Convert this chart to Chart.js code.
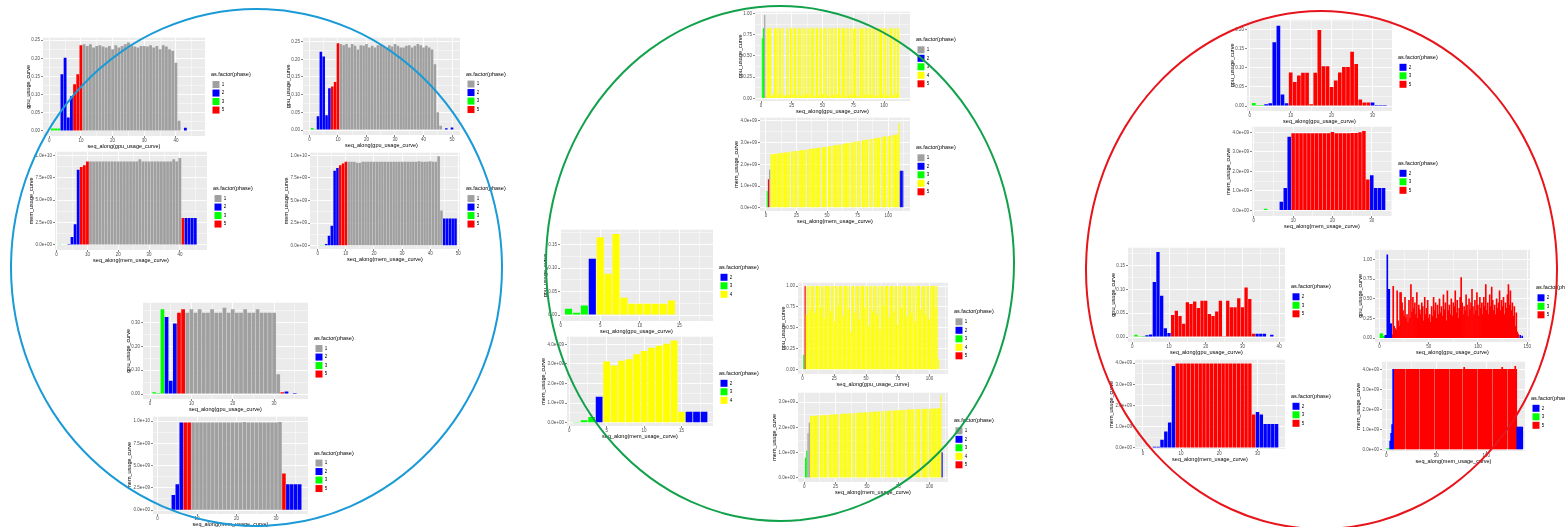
<!DOCTYPE html>
<html lang="en">
<head>
<meta charset="UTF-8">
<title>Usage curves by phase</title>
<script src="https://cdn.jsdelivr.net/npm/chart.js"></script>
<style>
  html, body { margin: 0; padding: 0; background: #fff; }
  body { position: relative; width: 1565px; height: 527px; overflow: hidden; }
  .plot { position: absolute; }
  .ring { position: absolute; border-radius: 50%; box-sizing: border-box; z-index: 5; pointer-events: none; }
</style>
</head>
<body>
<div class="ring" style="left:10px;top:8px;width:493px;height:519px;border:2px solid #1A9AD6"></div>
<div class="ring" style="left:545px;top:5px;width:470px;height:517px;border:2px solid #12A14B"></div>
<div class="ring" style="left:1085px;top:10px;width:473px;height:520px;border:2px solid #E8141B"></div>
<script>
// phase colours (1 grey, 2 blue, 3 green, 4 yellow, 5 red)
const PHASE_COLORS = {1: '#A0A0A0', 2: '#0000FF', 3: '#00FF00', 4: '#FFFF00', 5: '#FF0000'};

// ---- blue group ----
const b1Val = [0.7,0.7,0.7, 15.6,20.2,3.7,9.6, 12.9,15.6,23.6,
  23.9,23.4,23.9,23.0,23.4,23.6,23.3,23.0,23.4,22.5,
  23.6,23.0,23.4,23.9,24.4,23.6,23.3,23.0,23.4,23.4,
  23.3,23.6,23.0,23.4,22.5,23.6,23.3,22.5,22.1,18.8,
  2.8,null,0.9];
const b1Runs = [[3,3],[2,4],[5,3],[1,32],[2,1]];

const b2Val = [0.6,0.2, 3.9,22.1,20.8,4.2,11.8, 12.3,13.6,24.5,
  24.3,24.0,24.3,23.3,24.3,23.8,22.8,24.0,23.8,24.3,
  23.3,23.8,23.3,24.0,24.3,23.8,23.3,24.0,23.6,24.3,
  23.8,23.3,23.3,23.8,24.0,23.3,23.8,24.3,24.0,23.3,
  23.8,23.3,22.8, 18.6,5.0,1.2, null,0.5,null,0.7];
const b2Runs = [[3,2],[2,5],[5,3],[1,37],[2,1],[1,1],[2,1]];

const b3Val = [0.02,0.05,0.05, 0.1,0.9,2.3,8.4, 8.7,8.9,9.3,
  9.3,9.3,9.3,9.3,9.3,9.3,9.3,9.3,9.3,9.3,
  9.3,9.3,9.3,9.3,9.3,9.3,9.55,9.3,9.3,9.3,
  9.3,9.3,9.3,9.3,9.3,9.3,9.3,9.55,9.3,9.7,
  3.0, 3.0,3.0,3.0,3.0];
const b3Runs = [[3,3],[2,4],[5,3],[1,30],[5,1],[2,4]];

const b4Val = [0.07,0.07, 0.18,1.1,2.2,8.3,8.6, 8.9,9.1,9.3,
  9.3,9.3,9.3,9.2,9.2,9.3,9.3,9.3,9.3,9.3,
  9.3,9.3,9.3,9.3,9.3,9.3,9.3,9.3,9.3,9.3,
  9.3,9.3,9.3,9.3,9.3,9.35,9.3,9.3,9.3,9.35,
  9.3,9.3,9.9, 3.9, 3.0,3.0,3.0,3.0,3.0];
const b4Runs = [[3,2],[2,5],[5,3],[1,34],[2,5]];

const b5Val = [0.7,0.4,35.6, 32.4,5.6,29.6, 34.2,35.6,
  34.2,35.6,34.2,35.6,34.2,34.2,35.6,34.2,34.2,36.3,
  34.2,35.6,34.2,34.2,35.6,34.2,34.2,35.6,34.2,34.2,
  34.2,34.2, 8.3, 0.7, 1.1,null,0.4];
const b5Runs = [[3,3],[2,3],[5,2],[1,23],[5,1],[2,3]];

const b6Val = [0.04,0.04,0.04, 1.7,2.9,9.85, 9.85,9.85,
  9.85,9.85,9.85,9.85,9.85,9.85,9.85,9.85,9.85,9.85,
  9.85,9.85,9.85,9.9,9.85,9.85,9.85,9.85,9.85,9.85,
  9.85,9.85,9.9, 4.1, 2.9,2.9,2.9,2.9];
const b6Runs = [[3,3],[2,3],[5,2],[1,23],[5,1],[2,4]];

// ---- green group ----
const g1Val = [70.8,82.5,98,
  4,82,83,82,83,3,5,82,83,82,
  4,83,82,5,83,4,3,82,83,4,
  82,83,5,82,83,4,82,83,82,3,
  83,4,82,5,83,82,4,83,82,83,
  3,82,83,4,82,83,5,82,83,82,
  4,83,3,82,83,4,82,83,5,82,
  83,4,82,83,82,3,83,82,4,83,
  5,82,83,82,4,83,3,82,83,82,
  4,83,82,5,83,82,4,83,82,3,
  82,4,83,82,83,5,82,83,4,82,
  3,83,82,4,83,82,5,83,82];
const g1Runs = [[3,2],[1,1],[4,109]];

const g2Val = [0.77,1.31,1.75,
  2.46,2.47,2.47,2.48,2.49,2.50,2.50,2.51,2.52,2.53,
  2.54,2.54,2.55,2.56,2.57,2.57,null,2.59,2.59,2.60,
  2.61,2.62,null,2.63,2.64,2.65,2.66,2.66,2.67,null,
  2.69,2.70,2.71,2.71,2.72,2.73,2.74,2.75,2.75,2.76,
  2.77,null,2.79,2.79,2.80,2.81,null,2.83,2.84,2.84,
  null,2.86,2.87,2.88,2.89,2.90,2.91,2.92,null,2.94,
  2.95,2.96,2.97,2.98,2.99,null,3.01,3.02,3.03,3.04,
  null,3.06,3.07,3.08,null,3.10,3.11,3.12,3.13,3.14,
  null,3.16,3.17,3.18,null,3.20,3.21,3.22,3.23,3.24,
  null,3.26,3.27,3.28,3.29,null,3.30,3.31,3.32,null,
  3.34,3.35,3.36,3.37,3.38,
  3.9, 1.7,1.7,1.7];
const g2Runs = [[3,1],[5,1],[1,1],[4,106],[2,3]];

const g3Val = [1.35,0.5,2.05, 12.0, 16.6,8.8,17.3,3.7,2.4,2.4,2.4,2.4,2.4,3.1];
const g3Runs = [[3,3],[2,1],[4,10]];

const g4Val = [0.03,0.12,0.29, 1.32, 3.12,2.92,3.16,3.24,3.49,3.66,3.83,3.93,4.03,4.19,0.56, 0.56,0.56,0.56];
const g4Runs = [[3,3],[2,1],[4,11],[2,3]];

const g5Val = [17.5,100,
  66,100,100,72,100,100,100,68,100,100,
  100,74,100,100,62,100,100,100,100,70,
  100,100,58,100,100,76,100,100,100,64,
  100,100,100,72,100,45,100,100,68,100,
  100,100,60,100,100,100,74,100,100,52,
  100,100,70,100,100,100,66,100,48,100,
  100,76,100,100,100,62,100,100,100,70,
  100,100,54,100,100,74,100,100,100,64,
  100,100,100,68,100,100,58,100,100,100,
  72,100,100,100,66,100,100,60,100,100,
  100,100,74,100,12.7];
const g5Runs = [[3,1],[5,1],[4,105]];

const g6Val = [0.8,1.08,1.77,2.18,
  2.45,2.45,2.46,2.46,2.46,2.47,2.47,null,2.48,2.48,
  2.48,2.49,2.49,2.49,null,2.50,2.50,2.51,2.51,2.51,
  2.52,2.52,2.52,null,2.53,2.53,2.54,2.54,2.54,2.55,
  2.55,2.55,2.56,null,2.56,2.57,null,2.57,2.58,2.58,
  2.58,2.59,2.59,2.59,2.60,2.60,null,2.61,2.61,2.61,
  2.62,2.62,2.62,2.63,2.63,2.63,null,2.64,2.64,null,
  2.65,2.65,2.66,2.66,2.66,null,2.67,2.67,2.67,2.68,
  2.68,2.68,2.69,2.69,2.69,2.70,null,2.70,2.71,2.71,
  2.71,2.71,2.72,null,2.72,2.72,2.72,2.73,null,2.73,
  2.73,2.73,2.74,2.74,null,2.74,2.74,2.74,2.75,2.75,
  2.75,2.75,2.76,2.76,
  3.3, 1.02];
const g6Runs = [[3,2],[1,2],[4,105],[2,1]];

// ---- red group ----
const r1Val = [0.8,0.25,0.25, 0.45,0.7,16.7,21.0,3.0,0.7,
  8.8,6.3,8.0,8.7,8.7,0.45,8.7,19.9,10.4,10.4,
  5.0,6.7,8.8,10.2,10.2,14.2,11.0,1.7,0.9,0.9,
  0.9,0.25,0.25,0.25];
const r1Runs = [[3,3],[2,6],[5,20],[2,4]];

const r2Val = [null,0.02,0.08, 0.02,0.02,0.02,0.44,1.15,3.78,
  3.95,3.95,3.95,3.96,3.95,3.95,3.95,3.95,3.95,3.95,
  4.02,3.96,3.95,3.96,3.96,3.97,3.97,4.0,4.07, 1.58,
  1.8,1.15,1.15,1.15];
const r2Runs = [[3,3],[2,6],[5,20],[2,4]];

const r3Val = [0.5,0.15,0.2, 0.35,0.55,11.6,17.9,8.7,1.85,0.85,
  4.65,5.55,4.4,2.8,7.3,6.95,7.5,6.1,7.65,7.65,
  4.85,4.4,5.35,7.65,0.15,7.65,6.25,6.25,8.15,6.25,
  10.4,8.0,0.7, 0.7,0.7,0.7,null,0.5];
const r3Runs = [[3,3],[2,7],[5,23],[2,5]];

const r4Val = [5.5,5.5,5.5,2.1,2.1, 3.4,3.4,106,62,62,18,18,
  4,66,15,12,10,60,22,15,58,58,
  45,35,28,52,25,30,20,48,25,68,
  33,52,38,45,30,58,25,42,36,30,
  45,40,22,52,30,38,48,25,30,20,
  40,28,52,35,45,25,42,30,50,32,
  40,28,55,36,45,22,60,35,42,30,
  50,28,45,40,60,32,48,25,38,52,
  77,45,30,40,35,55,42,28,50,36,
  45,62,40,30,48,35,58,42,28,52,
  38,45,30,52,40,68,35,45,30,55,
  40,65,48,35,42,30,50,38,45,60,
  35,48,40,52,30,45,38,55,68,42,
  60,35,45,28,40,15,32,8,5,
  null,3.4,null,2.5];
const r4Runs = [[3,5],[2,7],[5,129],[2,4]];

const r5Val = [0.02,0.02, 0.06,0.06,0.39,0.77,1.2,3.86,
  3.98,3.98,3.98,3.98,3.98,3.98,3.98,3.98,3.98,3.98,
  3.98,3.98,3.98,3.98,3.98,3.98,3.98,3.98,3.98,3.98,
  1.58, 1.7,1.58,1.13,1.13,1.13,1.13];
const r5Runs = [[3,2],[2,6],[5,21],[2,6]];

const r6Val = [0.03,0.03,0.03, 0.41,0.8,1.24,4.0,
  4,4,4,4,4,4,4,4,4,4,
  4,null,4,4,4,4,4,4,4,4,
  4,4,4,4,4,null,4,4,4,4,
  4,4,4,4,4,4,4,4,4,4,
  null,4,4,4,4,4,4,4,4,4,
  4,4,4,4,4,null,4,4,4,4,
  4,4,4,4,4,4,4,4,null,4,
  4.1,4,4,4,4,4,4,4,4,4,
  4,4,4,null,4,4,4,4,4,4,
  4,4,4,4,4,4,4,4,null,4,
  4,4,4,4,4,4,4,4,4.1,4,
  4,4,4,null,4,4,4,4,4,4,
  4,4.15,4,
  1.12,1.12,1.12,1.12,1.12,1.12];
const r6Runs = [[3,3],[2,4],[5,123],[2,6]];

// tick label formats
function pct(v) { return (v / 100).toFixed(2); }
function sci(v) {
  const n = v * 1e9;
  if (Math.abs(n) < 1) return '0.0e+00';
  const e = Math.floor(Math.log10(Math.abs(n)) + 1e-9);
  const m = n / Math.pow(10, e);
  return m.toFixed(1) + 'e' + (e < 0 ? '-' : '+') + String(Math.abs(e)).padStart(2, '0');
}

const GPU_Y = 'gpu_usage_curve', GPU_X = 'seq_along(gpu_usage_curve)';
const MEM_Y = 'mem_usage_curve', MEM_X = 'seq_along(mem_usage_curve)';

// where each small panel sits, and its axis ranges [min, max, major step]
const plots = [
  {vals: b1Val, runs: b1Runs, keys: [1,2,3,5], panel: [43,38,205,137], x: [-1.98,49.2,10], y: [-1.38,25.7,5], fmt: pct, yLab: GPU_Y, xLab: GPU_X},
  {vals: b2Val, runs: b2Runs, keys: [1,2,3,5], panel: [303,38,460,136], x: [-2.26,52.8,10], y: [-1.4,26.1,5], fmt: pct, yLab: GPU_Y, xLab: GPU_X},
  {vals: b3Val, runs: b3Runs, keys: [1,2,3,5], panel: [55,152,207,251], x: [-0.52,48.8,10], y: [-0.56,10.4,2.5], fmt: sci, yLab: MEM_Y, xLab: MEM_X},
  {vals: b4Val, runs: b4Runs, keys: [1,2,3,5], panel: [310,153,460,250], x: [-2.76,50.6,10], y: [-0.37,10.3,2.5], fmt: sci, yLab: MEM_Y, xLab: MEM_X},
  {vals: b5Val, runs: b5Runs, keys: [1,2,3,5], panel: [143,303,308,400], x: [-1.7,38.2,10], y: [-2.1,38.4,10], fmt: pct, yLab: GPU_Y, xLab: GPU_X},
  {vals: b6Val, runs: b6Runs, keys: [1,2,3,5], panel: [153,417,308,515], x: [-1.15,38.1,10], y: [-0.44,10.5,2.5], fmt: sci, yLab: MEM_Y, xLab: MEM_X},

  {vals: g1Val, runs: g1Runs, keys: [1,2,3,4,5], panel: [755,12,910,102], x: [-4.9,121.1,25], y: [-3.1,102,25], fmt: pct, yLab: GPU_Y, xLab: GPU_X},
  {vals: g2Val, runs: g2Runs, keys: [1,2,3,4,5], panel: [760,118,910,212], x: [-4.9,117.9,25], y: [-0.15,4.15,1], fmt: sci, yLab: MEM_Y, xLab: MEM_X},
  {vals: g3Val, runs: g3Runs, keys: [2,3,4], panel: [560,230,713,322], x: [-0.08,19.25,5], y: [-1.27,18.2,5], fmt: pct, yLab: GPU_Y, xLab: GPU_X},
  {vals: g4Val, runs: g4Runs, keys: [2,3,4], panel: [567,337,713,427], x: [-0.29,19.2,5], y: [-0.17,4.39,1], fmt: sci, yLab: MEM_Y, xLab: MEM_X},
  {vals: g5Val, runs: g5Runs, keys: [1,2,3,4,5], panel: [798,283,948,375], x: [-3.6,114.5,25], y: [-5.2,104,25], fmt: pct, yLab: GPU_Y, xLab: GPU_X},
  {vals: g6Val, runs: g6Runs, keys: [1,2,3,4,5], panel: [798,393,948,483], x: [-5.0,114.7,25], y: [-0.16,3.37,1], fmt: sci, yLab: MEM_Y, xLab: MEM_X},

  {vals: r1Val, runs: r1Runs, keys: [2,3,5], panel: [1247,20,1392,112], x: [-0.67,34.75,10], y: [-1.3,22.6,5], fmt: pct, yLab: GPU_Y, xLab: GPU_X},
  {vals: r2Val, runs: r2Runs, keys: [2,3,5], panel: [1252,127,1392,217], x: [-0.47,35.15,10], y: [-0.29,4.29,1], fmt: sci, yLab: MEM_Y, xLab: MEM_X},
  {vals: r3Val, runs: r3Runs, keys: [2,3,5], panel: [1128,248,1285,343], x: [-1.17,41.6,10], y: [-1.05,18.8,5], fmt: pct, yLab: GPU_Y, xLab: GPU_X},
  {vals: r4Val, runs: r4Runs, keys: [2,3,5], panel: [1375,250,1530,343], x: [-4.5,152.9,50], y: [-5,112.5,25], fmt: pct, yLab: GPU_Y, xLab: GPU_X, bar: 1},
  {vals: r5Val, runs: r5Runs, keys: [2,3,5], panel: [1135,360,1285,450], x: [-2.07,37.2,10], y: [-0.05,4.16,1], fmt: sci, yLab: MEM_Y, xLab: MEM_X},
  {vals: r6Val, runs: r6Runs, keys: [2,3,5], panel: [1382,362,1525,452], x: [-4.15,138.75,50], y: [-0.08,4.38,1], fmt: sci, yLab: MEM_Y, xLab: MEM_X, bar: 1}
];

Chart.defaults.font.family = '"Liberation Sans", Arial, sans-serif';

// grey ggplot-like panel behind the grid
const panelBg = {
  id: 'panelBg',
  beforeDraw(chart) {
    const a = chart.chartArea, ctx = chart.ctx;
    ctx.save();
    ctx.fillStyle = '#EBEBEB';
    ctx.fillRect(a.left, a.top, a.right - a.left, a.bottom - a.top);
    ctx.restore();
  }
};

function isMajor(v, step) {
  const q = v / step;
  return Math.abs(q - Math.round(q)) < 1e-6;
}

// major + minor (half-step) ticks, like ggplot's grid
function halfTicks(step) {
  return scale => {
    const h = step / 2, out = [];
    for (let i = Math.ceil(scale.min / h - 1e-9); i * h <= scale.max + 1e-9; i++) {
      out.push({value: +(i * h).toFixed(4)});
    }
    scale.ticks = out;
  };
}

function gridFor(step) {
  return {
    color: '#FFFFFF',
    offset: false,
    lineWidth: c => (c.tick && isMajor(c.tick.value, step)) ? 0.9 : 0.45,
    tickLength: 2,
    tickWidth: 0.6,
    tickColor: c => (c.tick && isMajor(c.tick.value, step)) ? '#333333' : 'rgba(0,0,0,0)'
  };
}

function makePlot(spec) {
  const [pl, pt, pr, pb] = spec.panel;
  const yW = spec.fmt === sci ? 27 : 18;
  const xH = 14, gap = 6, legW = 46, padT = 3;
  const W = yW + (pr - pl) + gap + legW;
  const H = padT + (pb - pt) + xH;

  const wrap = document.createElement('div');
  wrap.className = 'plot';
  wrap.style.left = (pl - yW) + 'px';
  wrap.style.top = (pt - padT) + 'px';
  const cv = document.createElement('canvas');
  cv.width = W; cv.height = H;
  cv.style.width = W + 'px'; cv.style.height = H + 'px';
  wrap.appendChild(cv);
  document.body.appendChild(wrap);

  const phases = [];
  spec.runs.forEach(([p, n]) => { for (let i = 0; i < n; i++) phases.push(p); });

  const datasets = spec.keys.map(p => ({
    label: String(p),
    data: spec.vals.map((v, i) => ({x: i + 1, y: v, p: phases[i]})).filter(d => d.p === p && d.y !== null),
    backgroundColor: PHASE_COLORS[p],
    borderWidth: 0,
    grouped: false,
    barPercentage: spec.bar || 0.9,
    categoryPercentage: 1
  }));

  const tickFont = {size: 4.5};
  const titleFont = {size: 5.5};

  const chart = new Chart(cv, {
    type: 'bar',
    data: {datasets},
    options: {
      responsive: false,
      animation: false,
      devicePixelRatio: 1,
      events: [],
      layout: {padding: {top: padT, right: 0, left: 0, bottom: 0}},
      scales: {
        x: {
          type: 'linear', offset: false,
          min: spec.x[0], max: spec.x[1],
          afterBuildTicks: halfTicks(spec.x[2]),
          afterFit: s => { s.height = xH; },
          grid: gridFor(spec.x[2]),
          border: {display: false},
          ticks: {autoSkip: false, maxRotation: 0, padding: 0.5, color: '#4D4D4D', font: tickFont,
                  callback: v => isMajor(v, spec.x[2]) ? String(v) : ''},
          title: {display: true, text: spec.xLab, color: '#000', font: titleFont, padding: {top: 0, bottom: 0}}
        },
        y: {
          type: 'linear',
          min: spec.y[0], max: spec.y[1],
          afterBuildTicks: halfTicks(spec.y[2]),
          afterFit: s => { s.width = yW; },
          grid: gridFor(spec.y[2]),
          border: {display: false},
          ticks: {autoSkip: false, padding: 1, color: '#4D4D4D', font: tickFont,
                  callback: v => isMajor(v, spec.y[2]) ? spec.fmt(v) : ''},
          title: {display: true, text: spec.yLab, color: '#000', font: titleFont, padding: {top: 0, bottom: 1}}
        },
        gap: {
          axis: 'y', type: 'linear', position: 'right', display: true,
          grid: {display: false, drawTicks: false},
          ticks: {display: false},
          border: {display: false},
          afterFit: s => { s.width = gap; }
        }
      },
      plugins: {
        legend: {
          position: 'right',
          align: 'center',
          title: {display: true, text: 'as.factor(phase)', position: 'start', color: '#000',
                  font: {size: 5.5}, padding: {top: 0, bottom: 1}},
          labels: {boxWidth: 7, boxHeight: 7, padding: 1.5, color: '#000', font: {size: 4.5}}
        },
        tooltip: {enabled: false}
      }
    },
    plugins: [panelBg]
  });

  // give the legend a fixed width so its title is not clipped
  const lg = chart.legend;
  const baseFit = lg.fit;
  lg.fit = function () { baseFit.call(this); this.width = legW; };
  chart.update();

  // line the grey panel up with its spot on the page
  const a = chart.chartArea;
  wrap.style.left = (pl - a.left) + 'px';
  wrap.style.top = (pt - a.top) + 'px';
}

plots.forEach(makePlot);
</script>
</body>
</html>
